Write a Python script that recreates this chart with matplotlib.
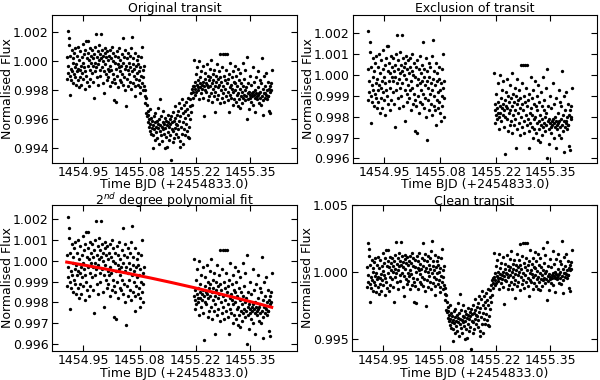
import numpy as np
import matplotlib.pyplot as plt
from matplotlib.ticker import MultipleLocator, FormatStrFormatter

# light curve (time BJD - 2454833.0, normalised flux)
t_pre = [1454.910, 1454.911, 1454.912, 1454.913, 1454.914, 1454.915, 1454.916, 1454.917, 1454.918, 1454.919,
         1454.920, 1454.921, 1454.922, 1454.923, 1454.924, 1454.925, 1454.926, 1454.927, 1454.928, 1454.929,
         1454.930, 1454.931, 1454.932, 1454.933, 1454.934, 1454.935, 1454.936, 1454.937, 1454.938, 1454.939,
         1454.940, 1454.941, 1454.942, 1454.943, 1454.944, 1454.945, 1454.946, 1454.947, 1454.948, 1454.949,
         1454.950, 1454.951, 1454.952, 1454.953, 1454.954, 1454.955, 1454.956, 1454.957, 1454.958, 1454.959,
         1454.960, 1454.961, 1454.962, 1454.963, 1454.964, 1454.965, 1454.966, 1454.967, 1454.968, 1454.969,
         1454.970, 1454.971, 1454.972, 1454.973, 1454.974, 1454.975, 1454.976, 1454.977, 1454.978, 1454.979,
         1454.980, 1454.981, 1454.982, 1454.983, 1454.984, 1454.985, 1454.986, 1454.987, 1454.988, 1454.989,
         1454.990, 1454.991, 1454.992, 1454.993, 1454.994, 1454.995, 1454.996, 1454.997, 1454.998, 1454.999,
         1455.000, 1455.001, 1455.002, 1455.003, 1455.004, 1455.005, 1455.006, 1455.007, 1455.008, 1455.009,
         1455.010, 1455.011, 1455.012, 1455.013, 1455.014, 1455.015, 1455.016, 1455.017, 1455.018, 1455.019,
         1455.020, 1455.021, 1455.022, 1455.023, 1455.024, 1455.025, 1455.026, 1455.027, 1455.028, 1455.029,
         1455.030, 1455.031, 1455.032, 1455.033, 1455.034, 1455.035, 1455.036, 1455.037, 1455.038, 1455.039,
         1455.040, 1455.041, 1455.042, 1455.043, 1455.044, 1455.045, 1455.046, 1455.047, 1455.048, 1455.049,
         1455.050, 1455.051, 1455.052, 1455.053, 1455.054, 1455.055, 1455.056, 1455.057, 1455.058, 1455.059,
         1455.060, 1455.061, 1455.062, 1455.063, 1455.064, 1455.065, 1455.066, 1455.067, 1455.068, 1455.069,
         1455.070, 1455.071, 1455.072, 1455.073, 1455.074, 1455.075, 1455.076, 1455.077, 1455.078, 1455.079,
         1455.080, 1455.081, 1455.082, 1455.083, 1455.084, 1455.085, 1455.086, 1455.087, 1455.088, 1455.089,
         1455.090, 1455.091, 1455.092, 1455.093, 1455.094, 1455.095]
f_pre = [0.9988, 1.0003, 1.0021, 0.9992, 0.9997, 1.0011, 1.0016, 0.9977, 0.9990, 1.0004,
         0.9995, 0.9987, 1.0008, 0.9993, 0.9999, 0.9985, 1.0002, 0.9991, 1.0006, 0.9989,
         0.9996, 1.0009, 0.9984, 0.9998, 0.9993, 1.0004, 0.9987, 1.0010, 0.9995, 0.9982,
         1.0001, 0.9994, 0.9989, 1.0007, 0.9997, 0.9984, 1.0003, 0.9992, 1.0012, 0.9999,
         0.9988, 1.0005, 0.9996, 0.9981, 1.0008, 0.9993, 1.0014, 0.9990, 1.0002, 0.9986,
         1.0014, 0.9997, 1.0006, 0.9983, 1.0001, 0.9994, 1.0009, 0.9988, 0.9999, 1.0004,
         0.9992, 1.0008, 0.9997, 1.0002, 0.9986, 1.0005, 0.9975, 0.9999, 1.0010, 0.9993,
         1.0019, 0.9996, 1.0003, 0.9989, 1.0007, 0.9998, 0.9984, 1.0001, 1.0011, 0.9994,
         1.0005, 0.9990, 1.0002, 1.0019, 0.9996, 1.0008, 0.9985, 1.0000, 1.0004, 0.9993,
         0.9978, 1.0006, 0.9998, 1.0009, 0.9991, 1.0003, 0.9987, 1.0007, 0.9995, 1.0001,
         0.9989, 1.0004, 0.9993, 1.0008, 0.9997, 0.9983, 1.0002, 0.9994, 1.0010, 0.9986,
         1.0000, 0.9991, 1.0006, 0.9988, 0.9973, 0.9999, 1.0004, 0.9985, 0.9972, 0.9995,
         1.0007, 0.9990, 0.9998, 1.0003, 0.9982, 0.9996, 1.0009, 0.9987, 0.9993, 1.0001,
         0.9986, 0.9997, 1.0005, 0.9991, 1.0016, 0.9984, 0.9999, 1.0003, 0.9989, 0.9995,
         1.0008, 0.9980, 0.9969, 0.9997, 1.0002, 0.9988, 0.9994, 1.0006, 0.9983, 0.9999,
         0.9991, 1.0004, 0.9986, 0.9996, 1.0009, 0.9981, 0.9993, 1.0017, 0.9998, 0.9985,
         1.0002, 0.9990, 0.9995, 0.9983, 1.0006, 0.9976, 0.9997, 0.9988, 1.0001, 0.9992,
         0.9984, 0.9998, 1.0004, 0.9987, 0.9993, 0.9982, 0.9996, 0.9978, 0.9990, 1.0003,
         0.9985, 1.0010, 0.9994, 0.9980, 0.9989, 0.9997]

t_tr = [1455.096, 1455.097, 1455.098, 1455.099, 1455.100, 1455.101, 1455.102, 1455.103, 1455.104, 1455.105,
        1455.106, 1455.107, 1455.108, 1455.109, 1455.110, 1455.111, 1455.112, 1455.113, 1455.114, 1455.115,
        1455.116, 1455.117, 1455.118, 1455.119, 1455.120, 1455.121, 1455.122, 1455.123, 1455.124, 1455.125,
        1455.126, 1455.127, 1455.128, 1455.129, 1455.130, 1455.131, 1455.132, 1455.133, 1455.134, 1455.135,
        1455.136, 1455.137, 1455.138, 1455.139, 1455.140, 1455.141, 1455.142, 1455.143, 1455.144, 1455.145,
        1455.146, 1455.147, 1455.148, 1455.149, 1455.150, 1455.151, 1455.152, 1455.153, 1455.154, 1455.155,
        1455.156, 1455.157, 1455.158, 1455.159, 1455.160, 1455.161, 1455.162, 1455.163, 1455.164, 1455.165,
        1455.166, 1455.167, 1455.168, 1455.169, 1455.170, 1455.171, 1455.172, 1455.173, 1455.174, 1455.175,
        1455.176, 1455.177, 1455.178, 1455.179, 1455.180, 1455.181, 1455.182, 1455.183, 1455.184, 1455.185,
        1455.186, 1455.187, 1455.188, 1455.189, 1455.190, 1455.191, 1455.192, 1455.193, 1455.194, 1455.195,
        1455.196, 1455.197, 1455.198, 1455.199, 1455.200, 1455.201, 1455.202, 1455.203, 1455.204, 1455.205,
        1455.206, 1455.207, 1455.208, 1455.209, 1455.210, 1455.211, 1455.212, 1455.213, 1455.214]
f_tr = [0.9983, 0.9976, 0.9980, 0.9971, 0.9975, 0.9964, 0.9970, 0.9962, 0.9966, 0.9958,
        0.9963, 0.9955, 0.9960, 0.9952, 0.9967, 0.9957, 0.9950, 0.9961, 0.9954, 0.9959,
        0.9949, 0.9956, 0.9940, 0.9962, 0.9953, 0.9958, 0.9946, 0.9964, 0.9955, 0.9951,
        0.9959, 0.9947, 0.9968, 0.9954, 0.9957, 0.9943, 0.9960, 0.9952, 0.9974, 0.9956,
        0.9949, 0.9962, 0.9955, 0.9945, 0.9958, 0.9953, 0.9966, 0.9950, 0.9957, 0.9940,
        0.9961, 0.9954, 0.9948, 0.9959, 0.9941, 0.9956, 0.9963, 0.9951, 0.9958, 0.9946,
        0.9955, 0.9960, 0.9949, 0.9957, 0.9932, 0.9962, 0.9953, 0.9958, 0.9944, 0.9965,
        0.9952, 0.9959, 0.9947, 0.9961, 0.9969, 0.9954, 0.9957, 0.9950, 0.9963, 0.9956,
        0.9948, 0.9966, 0.9953, 0.9959, 0.9971, 0.9945, 0.9941, 0.9962, 0.9955, 0.9968,
        0.9950, 0.9974, 0.9958, 0.9943, 0.9964, 0.9953, 0.9970, 0.9961, 0.9949, 0.9966,
        0.9957, 0.9972, 0.9952, 0.9967, 0.9948, 0.9963, 0.9975, 0.9955, 0.9947, 0.9969,
        0.9960, 0.9974, 0.9965, 0.9978, 0.9970, 0.9981, 0.9975, 0.9983, 0.9979]

t_post = [1455.215, 1455.216, 1455.217, 1455.218, 1455.219, 1455.220, 1455.221, 1455.222, 1455.223, 1455.224,
          1455.225, 1455.226, 1455.227, 1455.228, 1455.229, 1455.230, 1455.231, 1455.232, 1455.233, 1455.234,
          1455.235, 1455.236, 1455.237, 1455.238, 1455.239, 1455.240, 1455.241, 1455.242, 1455.243, 1455.244,
          1455.245, 1455.246, 1455.247, 1455.248, 1455.249, 1455.250, 1455.251, 1455.252, 1455.253, 1455.254,
          1455.255, 1455.256, 1455.257, 1455.258, 1455.259, 1455.260, 1455.261, 1455.262, 1455.263, 1455.264,
          1455.265, 1455.266, 1455.267, 1455.268, 1455.269, 1455.270, 1455.271, 1455.272, 1455.273, 1455.274,
          1455.275, 1455.276, 1455.277, 1455.278, 1455.279, 1455.280, 1455.281, 1455.282, 1455.283, 1455.284,
          1455.285, 1455.286, 1455.287, 1455.288, 1455.289, 1455.290, 1455.291, 1455.292, 1455.293, 1455.294,
          1455.295, 1455.296, 1455.297, 1455.298, 1455.299, 1455.300, 1455.301, 1455.302, 1455.303, 1455.304,
          1455.305, 1455.306, 1455.307, 1455.308, 1455.309, 1455.310, 1455.311, 1455.312, 1455.313, 1455.314,
          1455.315, 1455.316, 1455.317, 1455.318, 1455.319, 1455.320, 1455.321, 1455.322, 1455.323, 1455.324,
          1455.325, 1455.326, 1455.327, 1455.328, 1455.329, 1455.330, 1455.331, 1455.332, 1455.333, 1455.334,
          1455.335, 1455.336, 1455.337, 1455.338, 1455.339, 1455.340, 1455.341, 1455.342, 1455.343, 1455.344,
          1455.345, 1455.346, 1455.347, 1455.348, 1455.349, 1455.350, 1455.351, 1455.352, 1455.353, 1455.354,
          1455.355, 1455.356, 1455.357, 1455.358, 1455.359, 1455.360, 1455.361, 1455.362, 1455.363, 1455.364,
          1455.365, 1455.366, 1455.367, 1455.368, 1455.369, 1455.370, 1455.371, 1455.372, 1455.373, 1455.374,
          1455.375, 1455.376, 1455.377, 1455.378, 1455.379, 1455.380, 1455.381, 1455.382, 1455.383, 1455.384,
          1455.385, 1455.386, 1455.387, 1455.388, 1455.389, 1455.390, 1455.391, 1455.392, 1455.393, 1455.394,
          1455.395, 1455.396, 1455.397, 1455.398, 1455.399, 1455.400, 1455.401, 1455.402]
f_post = [1.0001, 0.9983, 0.9977, 0.9986, 0.9981, 0.9991, 0.9979, 0.9984, 0.9996, 0.9982,
          0.9987, 0.9980, 0.9974, 1.0000, 0.9985, 0.9982, 0.9989, 0.9978, 0.9993, 0.9984,
          0.9981, 0.9997, 0.9986, 0.9975, 0.9983, 0.9962, 0.9988, 0.9980, 0.9992, 0.9985,
          0.9979, 0.9998, 0.9984, 0.9973, 0.9990, 0.9982, 0.9987, 0.9976, 0.9995, 0.9983,
          0.9989, 0.9978, 1.0001, 0.9985, 0.9972, 0.9991, 0.9981, 0.9987, 0.9976, 0.9994,
          0.9983, 0.9979, 0.9965, 0.9990, 0.9986, 0.9974, 0.9998, 0.9982, 0.9988, 0.9977,
          0.9993, 0.9984, 0.9971, 0.9989, 1.0005, 0.9980, 0.9986, 0.9975, 0.9996, 0.9983,
          1.0005, 0.9978, 0.9990, 0.9972, 0.9987, 1.0005, 0.9981, 0.9994, 0.9976, 0.9985,
          1.0005, 0.9979, 0.9988, 0.9973, 0.9965, 0.9991, 0.9982, 0.9977, 0.9999, 0.9984,
          0.9975, 0.9989, 0.9981, 0.9970, 0.9993, 0.9979, 0.9986, 0.9974, 0.9997, 0.9980,
          0.9985, 0.9972, 0.9990, 0.9977, 0.9983, 0.9969, 0.9995, 0.9978, 0.9987, 0.9974,
          0.9968, 0.9981, 0.9992, 0.9976, 0.9985, 0.9971, 0.9979, 0.9999, 0.9975, 0.9983,
          0.9977, 0.9988, 0.9973, 0.9980, 0.9994, 0.9976, 0.9982, 1.0003, 0.9960, 0.9978,
          0.9985, 0.9974, 0.9979, 0.9967, 0.9990, 0.9977, 0.9975, 0.9984, 0.9972, 0.9978,
          0.9976, 0.9996, 0.9979, 0.9970, 0.9977, 0.9986, 0.9975, 0.9980, 0.9965, 0.9978,
          0.9989, 0.9976, 0.9974, 0.9982, 0.9977, 0.9993, 0.9971, 0.9978, 0.9975, 0.9987,
          0.9979, 0.9970, 0.9985, 1.0002, 0.9976, 0.9973, 0.9981, 0.9963, 0.9978, 0.9990,
          0.9975, 0.9983, 0.9978, 0.9977, 0.9992, 0.9974, 0.9980, 0.9976, 0.9986, 0.9976,
          0.9966, 0.9981, 0.9983, 0.9964, 0.9979, 0.9985, 0.9980, 0.9994]

xticks = [1454.95, 1455.085, 1455.22, 1455.35]
xticklabels = ['1454.95', '1455.08', '1455.22', '1455.35']
titles = ['Original transit', 'Exclusion of transit',
          '2$^{nd}$ degree polynomial fit', 'Clean transit']

t_all = np.array(t_pre + t_tr + t_post)
f_all = np.array(f_pre + f_tr + f_post)
t_out = np.array(t_pre + t_post)
f_out = np.array(f_pre + f_post)

# 2nd degree fit of the out-of-transit part, then detrend
t0 = 1455.15
coef = np.polyfit(t_out - t0, f_out, 2)
fit_all = np.polyval(coef, t_all - t0)
f_clean = f_all / fit_all

plt.rcParams['font.family'] = 'DejaVu Sans'
plt.rcParams['font.size'] = 9

fig = plt.figure(figsize=(6, 3.8), dpi=100)
ax1 = fig.add_axes([0.0872, 0.5718, 0.4073, 0.3887])
ax2 = fig.add_axes([0.5888, 0.5718, 0.4057, 0.3887])
ax3 = fig.add_axes([0.0872, 0.0763, 0.4073, 0.3842])
ax4 = fig.add_axes([0.5872, 0.0763, 0.4073, 0.3842])

ms = 2.4
ax1.plot(t_all, f_all, 'o', color='k', ms=ms, mew=0)
ax2.plot(t_out, f_out, 'o', color='k', ms=ms, mew=0)
ax3.plot(t_out, f_out, 'o', color='k', ms=ms, mew=0)
ax3.plot(t_all, fit_all, '-', color='r', lw=2.2)
ax4.plot(t_all, f_clean, 'o', color='k', ms=ms, mew=0)

ax1.set_ylim(0.9930, 1.0032)
ax1.yaxis.set_major_locator(MultipleLocator(0.002))
ax2.set_ylim(0.99579, 1.00288)
ax2.yaxis.set_major_locator(MultipleLocator(0.001))
ax3.set_ylim(0.99566, 1.00269)
ax3.yaxis.set_major_locator(MultipleLocator(0.001))
ax4.set_ylim(0.9941, 1.005)
ax4.yaxis.set_major_locator(MultipleLocator(0.005))

for ax, title in zip([ax1, ax2, ax3, ax4], titles):
    ax.set_xlim(1454.8754, 1455.462)
    ax.set_xticks(xticks)
    ax.set_xticklabels(xticklabels)
    ax.yaxis.set_major_formatter(FormatStrFormatter('%.3f'))
    ax.tick_params(direction='in', top=True, right=True, length=4, pad=2.5)
    ax.set_xlabel('Time BJD (+2454833.0)', labelpad=-0.5)
    ax.set_ylabel('Normalised Flux')
    ax.yaxis.set_label_coords(-0.156, 0.5)

ax1.set_title(titles[0], fontsize=9, pad=2)
ax2.set_title(titles[1], fontsize=9, pad=2)
ax3.set_title(titles[2], fontsize=9, pad=0)
ax4.set_title(titles[3], fontsize=9, pad=0)

fig.savefig('out.png', dpi=100)
